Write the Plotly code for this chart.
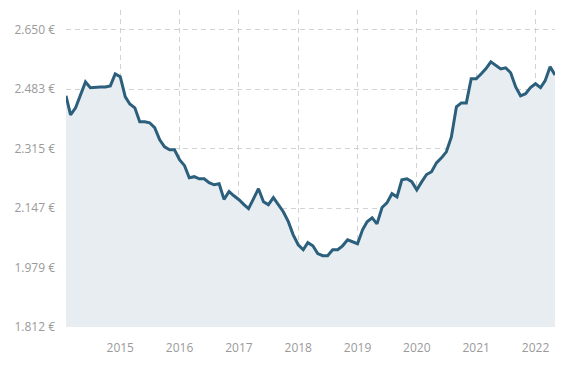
import pandas as pd
import plotly.graph_objects as go

values = [
    2464, 2410, 2430, 2467, 2503, 2487, 2489, 2489, 2489, 2492, 2526,
    2518, 2461, 2441, 2430, 2391, 2391, 2388, 2374, 2340, 2320, 2312, 2312,
    2284, 2267, 2233, 2236, 2230, 2230, 2219, 2213, 2216, 2172, 2194, 2182,
    2171, 2157, 2146, 2174, 2202, 2165, 2157, 2177, 2157, 2137, 2109, 2072,
    2044, 2030, 2050, 2041, 2019, 2013, 2013, 2030, 2030, 2041, 2058, 2053,
    2047, 2086, 2109, 2120, 2103, 2149, 2162, 2188, 2179, 2227, 2230, 2222,
    2199, 2222, 2242, 2250, 2275, 2289, 2306, 2348, 2433, 2444, 2444, 2512,
    2512, 2526, 2540, 2560, 2551, 2540, 2543, 2529, 2489, 2464, 2470, 2487,
    2498, 2487, 2506, 2546, 2523,
]
dates = pd.date_range("2014-02-01", periods=len(values), freq="MS")

y_tickvals = [1812, 1979.6, 2147.2, 2314.8, 2482.4, 2650]
y_ticktext = ["1.812 €", "1.979 €", "2.147 €", "2.315 €", "2.483 €", "2.650 €"]
x_tickvals = [f"{y}-01-01" for y in range(2015, 2023)]
x_ticktext = [str(y) for y in range(2015, 2023)]

fig = go.Figure()
fig.add_trace(go.Scatter(
    x=dates, y=values, mode="lines",
    line=dict(color="#2b5f7c", width=3),
    fill="tozeroy", fillcolor="#e8edf2",
    hoverinfo="skip",
))

grid = "#d2d2d2"
fig.update_layout(
    width=573, height=364,
    margin=dict(l=58, r=26, t=2, b=45),
    paper_bgcolor="white", plot_bgcolor="white",
    showlegend=False,
    font=dict(family="Open Sans, sans-serif", size=12, color="#9a9a9a"),
    xaxis=dict(
        range=[dates[0], dates[-1]],
        tickvals=x_tickvals, ticktext=x_ticktext,
        showgrid=True, gridcolor=grid, griddash="5px,4px", gridwidth=1,
        zeroline=False, showline=False, ticks="",
        ticklabelstandoff=12,
    ),
    yaxis=dict(
        range=[1812, 2706],
        tickvals=y_tickvals, ticktext=y_ticktext,
        showgrid=True, gridcolor=grid, griddash="5px,4px", gridwidth=1,
        zeroline=False, showline=False, ticks="",
        ticklabelstandoff=10,
    ),
)
fig.write_html("out.html")
